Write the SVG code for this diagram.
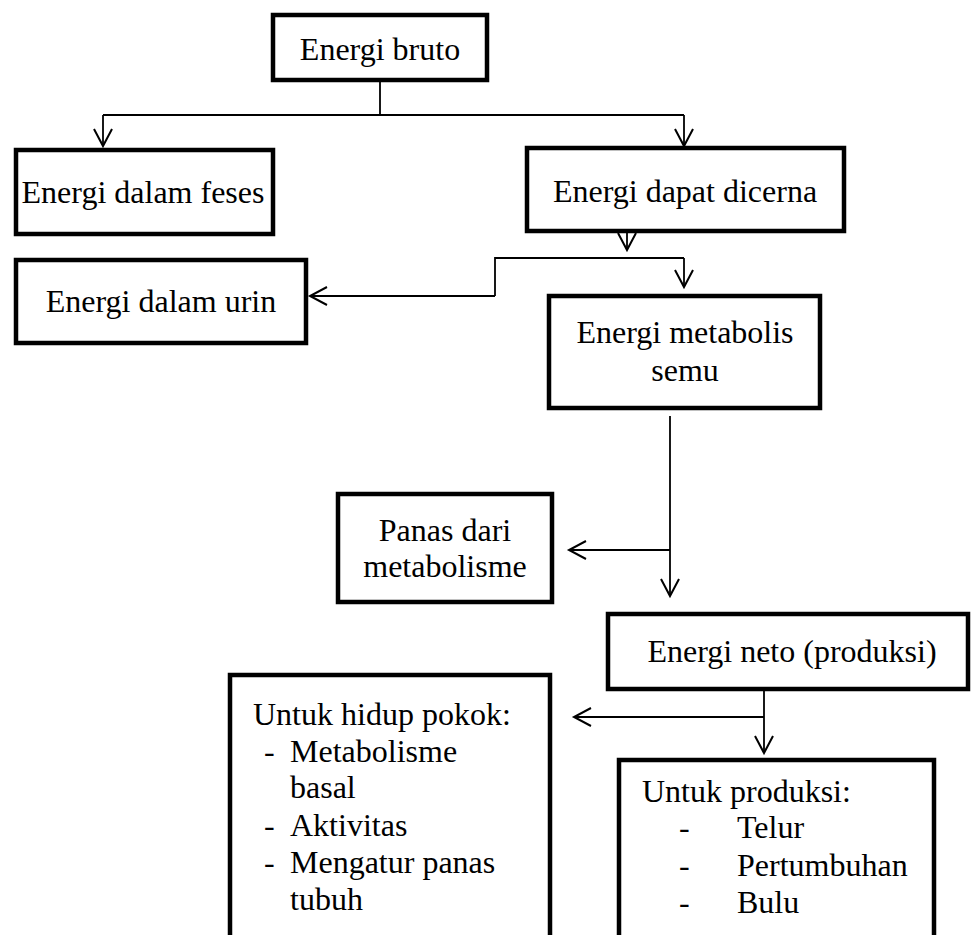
<svg xmlns="http://www.w3.org/2000/svg" width="971" height="935" viewBox="0 0 971 935">
<defs>
<style>
.box{fill:#fff;stroke:#000;stroke-width:4.5}
.t{font-family:"Liberation Serif","Times New Roman",serif;font-size:32px;fill:#000}
.c{text-anchor:middle}
.ln{fill:none;stroke:#000;stroke-width:1.8}
.ar{marker-end:url(#arr)}
</style>
<marker id="arr" markerWidth="24" markerHeight="24" refX="20" refY="12" orient="auto" markerUnits="userSpaceOnUse" viewBox="0 0 24 24"><path d="M3,3 L20,12 L3,21" fill="none" stroke="#000" stroke-width="2"/></marker>
</defs>
<rect width="971" height="935" fill="#fff"/>
<g id="connectors">
<path class="ln" d="M380,82 V115 M103,115 H684"/>
<path class="ln ar" d="M103,115 V146"/>
<path class="ln ar" d="M684,115 V146"/>
<path class="ln ar" d="M627,225 V250"/>
<path class="ln" d="M495,296 V258 H684"/>
<path class="ln ar" d="M684,258 V287"/>
<path class="ln ar" d="M495,296 H310"/>
<path class="ln ar" d="M670,416 V596"/>
<path class="ln ar" d="M670,550 H569"/>
<path class="ln ar" d="M764,691 V753"/>
<path class="ln ar" d="M764,717 H574"/>
</g>
<g id="energi-bruto"><rect class="box" x="273" y="15" width="214" height="65"/><text class="t c" x="380" y="60">Energi bruto</text></g>
<g id="energi-feses"><rect class="box" x="16" y="150" width="257" height="84"/><text class="t c" x="143" y="203">Energi dalam feses</text></g>
<g id="energi-dicerna"><rect class="box" x="527" y="148" width="317" height="83"/><text class="t c" x="685" y="202">Energi dapat dicerna</text></g>
<g id="energi-urin"><rect class="box" x="16" y="260" width="290" height="83"/><text class="t c" x="161" y="312">Energi dalam urin</text></g>
<g id="energi-metabolis"><rect class="box" x="549" y="296" width="271" height="112"/><text class="t c" x="685" y="343">Energi metabolis</text><text class="t c" x="685" y="381">semu</text></g>
<g id="panas"><rect class="box" x="338" y="494" width="214" height="108"/><text class="t c" x="445" y="541">Panas dari</text><text class="t c" x="445" y="577">metabolisme</text></g>
<g id="energi-neto"><rect class="box" x="608" y="614" width="360" height="75"/><text class="t c" x="792" y="662">Energi neto (produksi)</text></g>
<g id="hidup-pokok"><rect class="box" x="230" y="675" width="320" height="300"/>
<text class="t" x="253" y="725">Untuk hidup pokok:</text>
<text class="t" x="264" y="762">-</text><text class="t" x="290" y="762">Metabolisme</text>
<text class="t" x="290" y="798">basal</text>
<text class="t" x="264" y="836">-</text><text class="t" x="290" y="836">Aktivitas</text>
<text class="t" x="264" y="873">-</text><text class="t" x="290" y="873">Mengatur panas</text>
<text class="t" x="290" y="910">tubuh</text>
</g>
<g id="produksi"><rect class="box" x="619" y="760" width="315" height="250"/>
<text class="t" x="642" y="802">Untuk produksi:</text>
<text class="t" x="679" y="838">-</text><text class="t" x="737" y="838">Telur</text>
<text class="t" x="679" y="876">-</text><text class="t" x="737" y="876">Pertumbuhan</text>
<text class="t" x="679" y="913">-</text><text class="t" x="737" y="913">Bulu</text>
</g>
</svg>
